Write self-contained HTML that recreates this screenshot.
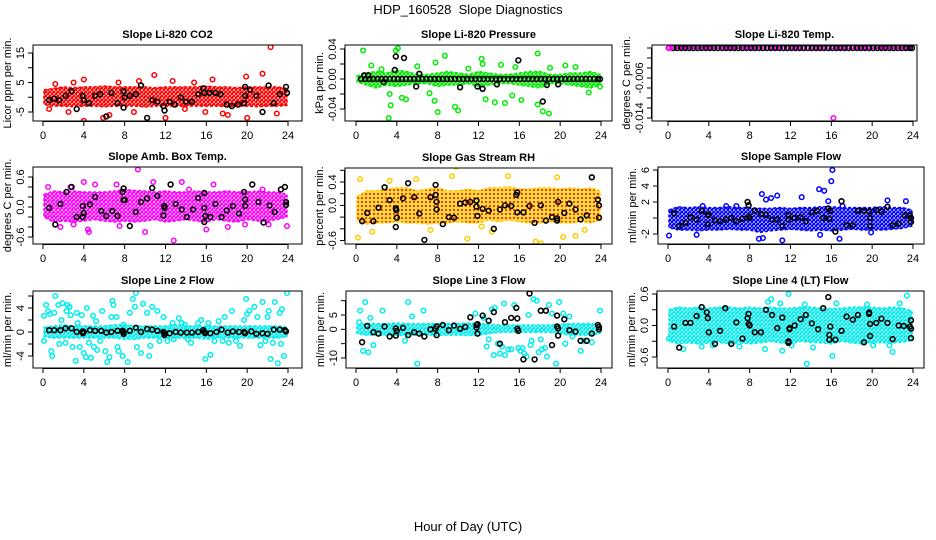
<!DOCTYPE html>
<html><head><meta charset="utf-8"><style>
html,body{margin:0;padding:0;background:#fff;}
svg{display:block;font-family:"Liberation Sans",sans-serif;}
</style></head><body>
<svg id="chart" width="936" height="540" viewBox="0 0 936 540" xmlns="http://www.w3.org/2000/svg">
<defs>
<pattern id="pat-red" width="4" height="4" patternUnits="userSpaceOnUse"><rect width="4" height="4" fill="#fff"/><circle cx="2" cy="2" r="1.5" fill="none" stroke="#ff0000" stroke-width="1.3"/><circle cx="0" cy="0" r="1" fill="#ff0000"/></pattern>
<pattern id="pat-green" width="4" height="4" patternUnits="userSpaceOnUse"><rect width="4" height="4" fill="#fff"/><circle cx="2" cy="2" r="1.5" fill="none" stroke="#00ee00" stroke-width="1.3"/><circle cx="0" cy="0" r="1" fill="#00ee00"/></pattern>
<pattern id="pat-magenta" width="4" height="4" patternUnits="userSpaceOnUse"><rect width="4" height="4" fill="#fff"/><circle cx="2" cy="2" r="1.5" fill="none" stroke="#ff00ff" stroke-width="1.3"/><circle cx="0" cy="0" r="1" fill="#ff00ff"/></pattern>
<pattern id="pat-orange" width="4" height="4" patternUnits="userSpaceOnUse"><rect width="4" height="4" fill="#ffe040"/><circle cx="2" cy="2" r="1.1" fill="#ff2000"/></pattern>
<pattern id="pat-blue" width="4" height="4" patternUnits="userSpaceOnUse"><rect width="4" height="4" fill="#fff"/><circle cx="2" cy="2" r="1.5" fill="none" stroke="#0000ff" stroke-width="1.3"/><circle cx="0" cy="0" r="1" fill="#0000ff"/></pattern>
<pattern id="pat-cyan" width="4" height="4" patternUnits="userSpaceOnUse"><rect width="4" height="4" fill="#fff"/><circle cx="2" cy="2" r="1.5" fill="none" stroke="#00eeee" stroke-width="1.3"/><circle cx="0" cy="0" r="1" fill="#00eeee"/></pattern>
</defs>
<text x="468" y="14" text-anchor="middle" font-size="13" xml:space="preserve">HDP_160528  Slope Diagnostics</text>
<text x="468" y="531" text-anchor="middle" font-size="13">Hour of Day (UTC)</text>
</svg>
<script>
const bandHours = [0.1,1,2,3,4,5,6,7,8,9,10,11,12,13,14,15,16,17,18,19,20,21,22,23,23.9];
const zeroHours = [0.5,0.9,1.3,1.7,2.1,2.5,2.9,3.3,3.7,4.1,4.5,4.9,5.3,5.7,6.1,6.5,6.9,7.3,7.7,8.1,8.5,8.9,9.3,9.7,10.1,10.5,10.9,11.3,11.7,12.1,12.5,12.9,13.3,13.7,14.1,14.5,14.9,15.3,15.7,16.1,16.5,16.9,17.3,17.7,18.1,18.5,18.9,19.3,19.7,20.1,20.5,20.9,21.3,21.7,22.1,22.5,22.9,23.3,23.7,23.9];

// Panel 1: CO2
const co2BandLo = [-2.5,-3,-3,-3.2,-3,-3,-3.2,-3,-3,-3,-3.3,-3,-3,-3,-3,-3,-3,-3,-3.2,-3,-3,-3.2,-3,-3,-2.8];
const co2BandHi = [2.5,3,3.5,3.2,3.5,3.5,3.8,3.5,3.5,3.5,3.5,3.2,3.5,3.5,3.5,3.5,3.8,3.5,3.5,3.2,3.5,3.5,3.5,3.5,3];
const co2OutH = [4,4,10.9,22.3,19.9,21.5,20,5.9,6.5,12,2.5,9.4,12.7,16.6,7.4,1.2,14.8,18.1,0.6,22.9,13.9,3,17.6,8.9,15.9];
const co2OutV = [-8,6,7.5,17,7,8,-7,-7,-6,-7,-5,5.5,5.5,6,5,4.5,5,-6,-4,-5.5,-4,5,-5.5,-5,-5];
const co2BlkH = [0.6,1.1,1.6,2.2,2.8,3.3,3.9,4.0,4.5,5.1,5.6,6.2,6.7,7.3,7.9,7.9,8,8.5,9.1,9.6,10.2,10.7,11.2,11.8,11.9,12.4,12.9,13.5,14,14.6,15.2,15.7,15.8,16.3,16.9,17.4,18.0,18.5,19.1,19.7,19.8,19.8,20.3,20.9,21.5,22.1,22.6,23.2,23.8,23.9];
const co2BlkV = [-1,-0.5,-1,0.5,2,-4,0.5,-1,-2,0.5,1,-6.5,1.5,-2,-3.5,2,0,0.5,1,4,-7,-1,-1.5,-3,-4.5,-1.5,-2.5,0,-1.5,-1.5,1,3,1.5,1.5,1.5,1,-2.5,-3,-2.5,-2,0.5,3.5,2.5,0.5,-5,4,-2,1,3.5,1.5];

// Panel 2: Pressure
const prBandLo = [-0.004,-0.008,-0.012,-0.008,-0.01,-0.008,-0.006,-0.006,-0.01,-0.008,-0.008,-0.006,-0.01,-0.008,-0.006,-0.006,-0.008,-0.01,-0.012,-0.006,-0.006,-0.008,-0.01,-0.012,-0.008];
const prBandHi = [0.004,0.008,0.01,0.008,0.012,0.01,0.006,0.006,0.008,0.01,0.008,0.006,0.01,0.008,0.006,0.006,0.008,0.01,0.01,0.006,0.006,0.008,0.008,0.01,0.006];
const prOutH = [0.7,3.2,3.4,3.9,4.1,4.5,4.9,3.3,8.7,7.8,7.7,8.0,9.7,10.0,12.3,12.7,12.4,13.6,14.6,15.3,15.6,16.2,17.8,17.8,18.3,18.9,19.0,20.5,21.5,22.8,23.9,1.5,2.5,6.0,7.2,11.0,14.2];
const prOutV = [0.038,-0.052,-0.035,0.038,0.041,-0.025,-0.027,-0.02,0.031,0.022,-0.029,-0.044,-0.037,-0.042,0.027,-0.027,0.02,-0.031,-0.032,-0.022,0.016,-0.028,0.034,-0.034,-0.043,-0.046,0.015,0.018,0.016,-0.018,-0.01,0.018,0.013,0.017,-0.019,0.014,0.019];
const prBlkH = zeroHours.concat([0.8,1.2,3.9,3.8,4.7,5.9,6.2,10.2,11.9,12.4,13.8,15.9,18.3,18.7,19.8,2.7]);
const prBlkV = zeroHours.map(function(){return 0;}).concat([0.005,0.005,0.03,0.012,0.028,-0.01,0.007,-0.011,-0.01,-0.013,-0.007,0.025,-0.03,-0.008,-0.007,-0.004]);

// Panel 3: Li-820 temp
const tpBandLo = [-0.0002,-0.0002,-0.0002,-0.0002,-0.0002,-0.0002,-0.0002,-0.0002,-0.0002,-0.0002,-0.0002,-0.0002,-0.0002,-0.0002,-0.0002,-0.0002,-0.0002,-0.0002,-0.0002,-0.0002,-0.0002,-0.0002,-0.0002,-0.0002,-0.0002];
const tpBandHi = [0.0002,0.0002,0.0002,0.0002,0.0002,0.0002,0.0002,0.0002,0.0002,0.0002,0.0002,0.0002,0.0002,0.0002,0.0002,0.0002,0.0002,0.0002,0.0002,0.0002,0.0002,0.0002,0.0002,0.0002,0.0002];
const tpOutH = [0.05,0.15,16.2];
const tpOutV = [0,0,-0.014];
const tpBlkH = zeroHours;
const tpBlkV = zeroHours.map(function(){return 0;});

// Panel 4: Amb box temp
const abBandLo = [-0.2,-0.3,-0.28,-0.3,-0.28,-0.25,-0.28,-0.3,-0.28,-0.3,-0.28,-0.25,-0.3,-0.28,-0.25,-0.28,-0.3,-0.25,-0.28,-0.3,-0.25,-0.28,-0.28,-0.25,-0.2];
const abBandHi = [0.25,0.32,0.3,0.32,0.3,0.3,0.3,0.32,0.35,0.33,0.32,0.3,0.32,0.3,0.3,0.32,0.3,0.3,0.32,0.3,0.3,0.32,0.3,0.3,0.25];
const abOutH = [9.3,12.8,1.7,4.5,4.4,10,16,23.9,4,7.2,10.8,13.6,16.7,5.1,0.5,3,19.8,22.1,7.5,21.5,18.1,2.7,14.3];
const abOutV = [0.75,-0.67,-0.4,-0.5,-0.45,-0.5,-0.45,-0.38,0.5,0.45,0.5,0.5,0.45,0.45,0.4,-0.35,-0.35,-0.35,-0.38,0.35,-0.4,0.4,0.35];
const abBlkH = [0.6,1.2,1.7,2.3,2.8,3.3,3.9,3.9,4.0,4.6,5.1,5.7,6.2,6.8,7.3,7.8,7.9,7.9,8.0,8.5,9.1,9.6,10.2,10.7,11.2,11.8,11.9,11.9,12.5,13.0,13.6,14.1,14.7,15.2,15.8,15.8,15.9,15.8,16.4,16.9,17.5,18.0,18.6,19.2,19.7,19.8,19.8,20.5,21.1,21.6,22.2,22.7,23.3,23.7,23.8,23.8];
const abBlkV = [-0.02,-0.35,0.06,0.3,0.4,-0.2,-0.2,0.02,-0.12,0.05,0.2,-0.08,-0.18,-0.08,-0.18,0.3,0.37,0.14,0.14,-0.38,-0.1,0.1,0.17,0.38,0.22,-0.17,-0.02,0.02,0.45,0.06,-0.05,-0.2,-0.05,0.18,0.28,-0.02,-0.18,-0.3,-0.2,0.06,-0.2,-0.07,0.02,-0.13,0.3,0.15,0.02,0.45,0.1,-0.31,0.03,-0.1,0.35,0.4,0.1,0.04];

// Panel 5: Gas stream RH
const rhBandLo = [-0.25,-0.32,-0.3,-0.3,-0.28,-0.3,-0.3,-0.32,-0.3,-0.3,-0.28,-0.3,-0.3,-0.25,-0.28,-0.25,-0.28,-0.3,-0.3,-0.28,-0.3,-0.3,-0.28,-0.3,-0.25];
const rhBandHi = [0.15,0.25,0.25,0.28,0.3,0.3,0.25,0.28,0.3,0.25,0.25,0.28,0.25,0.3,0.3,0.32,0.28,0.28,0.3,0.3,0.28,0.3,0.28,0.3,0.25];
const rhOutH = [0.2,0.4,8.8,9.8,10.9,13.3,17.6,18.1,20.3,21.5,23.1,14.9,19.7,5.9,7.3,22.4,3.3,1.6,12.3,9.4];
const rhOutV = [-0.55,0.45,0.7,0.66,-0.57,-0.45,-0.62,-0.65,-0.54,-0.52,-0.72,0.5,0.48,0.45,-0.42,-0.42,0.42,-0.45,-0.36,0.5];
const rhBlkH = [0.6,1.1,1.7,2.2,2.8,3.3,3.9,3.9,3.95,4.0,4.6,5.1,5.7,6.2,6.7,7.3,7.8,7.8,7.9,7.9,8.5,9.1,9.6,10.2,10.7,11.2,11.8,11.8,11.9,12.4,13.0,13.5,14.1,14.6,15.2,15.7,15.8,15.8,16.4,17.0,17.5,18.1,18.6,19.2,19.7,19.7,19.8,20.4,20.9,21.5,22.0,22.6,23.1,23.7,23.8,23.8];
const rhBlkV = [-0.27,-0.13,-0.27,-0.04,0.31,0.09,-0.05,-0.37,-0.08,-0.21,0.12,0.38,0.14,-0.14,-0.59,0.14,0.35,0.18,0.06,-0.07,-0.32,-0.2,-0.21,0.03,0.05,0.06,0.08,-0.02,-0.18,-0.06,-0.09,-0.4,-0.07,0,-0.01,0.18,0.22,-0.12,-0.12,-0.01,-0.3,0,-0.26,-0.2,-0.22,-0.26,0.06,-0.13,0.03,-0.07,-0.24,-0.17,0.48,0.1,0,-0.21];

// Panel 6: Sample flow
const sfBandLo = [-1.2,-1.5,-1.5,-1.6,-1.5,-1.5,-1.4,-1.5,-1.5,-1.8,-1.6,-1.5,-1.4,-1.5,-1.6,-1.5,-1.6,-1.5,-1.4,-1.5,-1.5,-1.5,-1.4,-1.3,-1.0];
const sfBandHi = [1.0,1.4,1.3,1.4,1.3,1.3,1.4,1.3,1.3,1.2,1.2,1.3,1.2,1.3,1.3,1.4,1.4,1.3,1.3,1.3,1.3,1.4,1.3,1.3,1.0];
const sfOutH = [0.1,9.2,9.6,10.1,10.7,13.1,14.8,15.3,16.1,16,15.7,21.5,23.3,8.9,11.2,9.3,16.8,2.8,19.9,3.4,6.7,5.7,17.1,14.9];
const sfOutV = [-2.2,3,2.3,2.5,2.8,2.6,3.6,3.4,6,4.6,2.1,2.2,2.1,-2.6,-2.8,-2.5,-2.6,-2.1,-1.8,1.5,1.5,1.5,1.5,-2.1];
const sfBlkH = [0.6,1.1,1.7,2.2,2.8,3.3,3.9,3.9,4.0,4.6,5.1,5.7,6.2,6.7,7.3,7.8,7.9,7.9,8.0,8.5,9.1,9.6,10.2,10.7,11.2,11.8,11.8,12.4,13.0,13.5,14.1,14.6,15.2,15.7,15.8,15.9,16.4,17.0,17.5,18.1,18.6,19.2,19.7,19.8,19.8,20.4,20.9,21.5,22.0,22.6,23.2,23.7,23.8,23.8];
const sfBlkV = [0.6,-1,-0.6,0.1,-0.2,0.9,-0.8,0.4,0.4,-0.3,-0.4,-0.2,0,-0.4,-0.1,2,1.6,0.2,0,0.9,0.5,0.4,-0.2,-0.2,-1,-0.2,0.4,0,0.1,-0.4,0.7,0.9,0,1.2,-0.1,0.9,-1.7,2.1,-0.9,-0.9,0.9,0.9,0.8,0,-1,1,0.8,1.4,-0.9,-0.7,0.3,0.3,0,-0.5];

// Panel 7: Line 2 flow
const l2BandLo = [-0.8,-1,-1,-1,-1,-1,-1,-1,-1.2,-1.2,-1,-1,-1,-1,-1,-1,-1.2,-1,-1,-1,-1,-1,-1,-1,-0.8];
const l2BandHi = [0.8,1,1.2,1,1,1,1,1.2,1.2,1,1,1,1,1.2,1,1,1,1,1,1,1,1,1,1,0.8];
const l2OutH = [0.1,0.1,0.3,0.5,0.7,0.8,0.9,1.1,1.2,1.5,1.6,1.8,1.9,2.2,2.3,2.4,2.6,2.7,2.9,3.2,3.3,3.4,3.6,3.8,4.0,4.2,4.3,4.5,4.7,4.9,5.0,5.2,5.3,5.6,5.8,6.1,6.3,6.5,6.7,6.8,6.9,7.2,7.3,7.4,7.8,7.9,8.3,8.5,8.8,9.0,9.1,9.2,9.6,9.8,10.2,10.4,10.5,10.7,11.2,11.4,11.8,12.2,12.7,13.3,13.6,14.2,14.5,15.2,15.5,15.9,16.4,16.2,16.8,17.2,17.6,17.8,18.2,18.5,18.9,19.3,19.7,19.9,20.0,20.2,20.7,21.0,21.3,21.5,21.8,22.0,22.1,22.3,22.5,22.7,23.0,23.2,23.4,23.6,23.9,23.3,12.8,13.9];
const l2OutV = [-1.5,2.7,4.5,3.5,3,-3.2,-4,3.2,6,4.5,-2,2,4.8,-1.8,3.5,4.5,4.2,2.8,-2.5,-4.8,3.2,1.5,-2.5,2.8,-3.5,-4.2,4,-1.8,-4.3,2.7,-2.5,1.8,-3,-1.5,3.5,-3.2,-5,-4.2,2.5,5.2,4.5,2.5,-2.5,-3.2,-4,1.2,-5,3.2,5.5,4.2,6.5,-2.5,-3.5,4.7,3.2,-4,-2.3,4.2,3.5,-1.5,2.5,-1.5,1.5,2.3,1.5,-1.2,-1.8,1.5,2,-4.5,-3.8,1.5,-1.5,1.8,-1.5,2.5,-1.8,3.5,-1.5,-2.3,2,5.5,3,3.5,4.2,2.5,-2.2,5,-1.5,2.5,3.5,-4.5,-1.8,5,-5.2,3.2,3.8,-4,6.5,-2,-1.2,1.2];
const l2BlkH = [0.6,1.1,1.7,2.2,2.8,3.3,3.9,3.9,4.0,4.6,5.1,5.7,6.2,6.7,7.3,7.8,7.9,7.9,8.5,9.1,9.6,10.2,10.7,11.2,11.8,11.9,11.9,12.4,13.0,13.5,14.1,14.6,15.2,15.7,15.8,15.9,16.4,17.0,17.5,18.1,18.6,19.2,19.7,19.8,20.4,20.9,21.5,22.0,22.6,23.2,23.7,23.8];
const l2BlkV = [0.3,0.3,0.3,0.6,0.6,0,-0.2,0.1,0,0.3,0.2,0.2,-0.1,0,0.2,0.2,-0.3,0,0.2,0.7,0,0.5,0.4,0.2,0,-0.5,-0.2,-0.2,0,-0.1,-0.1,-0.1,0,0.3,0,-0.2,-0.2,0,0.4,-0.1,0.1,0,0,-0.2,0.1,-0.3,-0.2,-0.3,0.4,0.4,0.3,0.1];

// Panel 8: Line 3 flow
const l3BandLo = [-1.5,-2,-2,-2,-2,-2.2,-2,-2,-2,-2,-2,-2.2,-2,-1.5,-1,-1,-1,-1,-1,-1,-1.5,-2,-2,-2,-1.5];
const l3BandHi = [1.5,2,2,2,2.2,2,2,2,2,2,2,2.2,2,1.8,1.5,1.5,1.5,1.5,1.5,1.5,1.8,2,2,2,1.5];
const l3OutH = [0.3,0.4,0.7,0.9,1.2,1.4,1.7,2.6,4.8,5.1,5.5,6.0,6.6,11.7,12.5,12.8,13.0,13.3,13.6,13.9,14.1,14.5,14.6,14.9,15.2,15.5,15.9,16.1,16.5,16.7,16.9,17.1,17.2,17.4,17.7,17.9,18.1,18.5,18.7,18.9,19.2,19.6,19.9,20.3,20.5,20.9,21.2,22.0,22.3,23.1,23.9,13.5,14.3,16.3,18.2];
const l3OutV = [2.5,6.5,-7.5,9.5,-8,4,-5.5,6.5,-4,9.5,4.5,-12,6.5,5.5,4,-6,-3.5,7,7.5,-5,-8.5,9,-9,-7,-7,8.5,-6.5,-7.5,-8.5,-9.5,5,-5.5,-4,10.5,10,-8,-3.5,-6.5,-9.5,8.5,5.5,-12,9.5,5.5,-5,4.5,-2.5,-7.5,-4,-4.5,6.5,-9,-6,-6.5,-7];
const l3BlkH = [0.6,1.1,1.7,2.2,2.8,3.3,3.9,3.9,4.0,4.6,5.1,5.7,6.2,6.7,7.3,7.8,7.9,7.9,8.5,9.1,9.6,10.2,10.7,11.2,11.8,11.8,11.9,11.9,12.4,13.0,13.5,14.1,14.6,15.2,15.7,15.8,15.8,15.9,16.4,17.0,17.5,18.1,18.6,19.2,19.7,19.7,19.8,19.8,20.4,20.9,21.5,22.0,22.6,23.1,23.7,23.8,23.8];
const l3BlkV = [-4.5,1.2,-1,-1.5,1,-2.5,-2.2,0.3,-0.5,0.5,-2,-1,-1.5,-2.5,0,0.2,-2,1,1.5,-0.3,1.3,0.2,0.8,4.2,1.5,0.6,-1.5,1.8,4.8,3,6,-5,2.5,4,7.5,3.8,0.2,-0.5,-10.5,12.5,-10.5,6.5,6.5,-5.5,4.8,1,-2.2,0.3,3.5,-0.3,-0.8,-4,-4,-1.5,1.5,0.8,0];

// Panel 9: Line 4 (LT) flow
const l4BandLo = [-0.3,-0.35,-0.33,-0.35,-0.33,-0.32,-0.35,-0.33,-0.35,-0.33,-0.3,-0.33,-0.35,-0.3,-0.32,-0.33,-0.35,-0.3,-0.33,-0.35,-0.32,-0.33,-0.33,-0.32,-0.28];
const l4BandHi = [0.3,0.35,0.33,0.35,0.33,0.35,0.35,0.33,0.35,0.33,0.35,0.33,0.33,0.35,0.35,0.33,0.32,0.33,0.35,0.35,0.35,0.33,0.35,0.33,0.28];
const l4OutH = [11.8,13.6,16.1,11.2,12.1,9.5,23.4,10.1,9.8,11,14.2,22,1.5,13.4,19.5,22.7,21.7,3.3,4.4,7,0.1,16.5,20.1];
const l4OutV = [0.6,-0.73,-0.58,-0.48,-0.38,-0.45,0.57,0.5,0.45,0.42,-0.42,-0.5,-0.45,0.4,0.4,0.42,-0.38,-0.4,-0.38,-0.4,-0.25,0.42,-0.38];
const l4BlkH = [0.6,1.1,1.7,2.2,2.8,3.3,3.8,3.9,4.0,4.6,5.1,5.6,6.2,6.7,7.3,7.8,7.9,7.9,8.0,8.5,9.1,9.6,10.2,10.7,11.2,11.8,11.8,11.9,11.9,12.4,13.0,13.5,14.1,14.7,15.2,15.7,15.8,15.8,15.9,16.4,17.0,17.5,18.1,18.6,19.2,19.7,19.7,19.8,19.8,20.4,20.9,21.5,22.0,22.6,23.1,23.7,23.8,23.8,23.8];
const l4BlkV = [-0.02,-0.42,0.05,0.05,0.18,0.35,0.25,0.14,-0.13,-0.35,-0.1,0.33,-0.35,0.06,-0.25,0.14,0.22,0.03,0,-0.13,-0.13,0.3,0.2,-0.05,0.15,-0.3,-0.33,-0.05,-0.07,0,0.12,0.2,0.04,-0.07,0.33,0.54,-0.18,-0.27,-0.02,-0.27,-0.1,0.17,0.11,0.2,-0.32,0.25,0.22,0.03,-0.2,0.05,0.13,0.05,-0.26,0,-0.01,-0.02,0.1,-0.06,-0.24];

const xTicks = [0,4,8,12,16,20,24];

const panels = [
 {name:'co2',title:'Slope Li-820 CO2',ylab:'Licor ppm per min.',l:33,r:302,t:45,b:121,x0:43,x24:288,va:15,pa:53,vb:-5,pb:112,ticks:[-5,0,5,10,15],labels:['-5','5','15'],lv:[-5,5,15],col:'#ff0000',pat:'pat-red',lo:co2BandLo,hi:co2BandHi,oh:co2OutH,ov:co2OutV,bh:co2BlkH,bv:co2BlkV},
 {name:'pressure',title:'Slope Li-820 Pressure',ylab:'kPa per min.',l:345,r:612,t:45,b:121,x0:356,x24:601,va:0.04,pa:49,vb:-0.04,pb:109,ticks:[-0.04,-0.02,0,0.02,0.04],labels:['-0.04','0.00','0.04'],lv:[-0.04,0,0.04],col:'#00ee00',pat:'pat-green',lo:prBandLo,hi:prBandHi,oh:prOutH,ov:prOutV,bh:prBlkH,bv:prBlkV},
 {name:'li820-temp',title:'Slope Li-820 Temp.',ylab:'degrees C per min.',l:652,r:917,t:45,b:121,x0:668,x24:913,va:0,pa:48,vb:-0.014,pb:118,ticks:[0,-0.002,-0.004,-0.006,-0.008,-0.01,-0.012,-0.014],labels:['-0.006','-0.014'],lv:[-0.006,-0.014],col:'#ff00ff',pat:'pat-magenta',lo:tpBandLo,hi:tpBandHi,oh:tpOutH,ov:tpOutV,bh:tpBlkH,bv:tpBlkV,blackFirst:true},
 {name:'amb-box-temp',title:'Slope Amb. Box Temp.',ylab:'degrees C per min.',l:33,r:302,t:167,b:244,x0:43,x24:288,va:0.6,pa:177,vb:-0.6,pb:237,ticks:[-0.6,-0.4,-0.2,0,0.2,0.4,0.6],labels:['-0.6','0.0','0.6'],lv:[-0.6,0,0.6],col:'#ff00ff',pat:'pat-magenta',lo:abBandLo,hi:abBandHi,oh:abOutH,ov:abOutV,bh:abBlkH,bv:abBlkV},
 {name:'gas-stream-rh',title:'Slope Gas Stream RH',ylab:'percent per min.',l:345,r:612,t:168,b:244,x0:356,x24:601,va:0.4,pa:182,vb:-0.6,pb:240.5,ticks:[-0.6,-0.4,-0.2,0,0.2,0.4,0.6],labels:['-0.6','0.0','0.4'],lv:[-0.6,0,0.4],col:'#ffcc00',pat:'pat-orange',lo:rhBandLo,hi:rhBandHi,oh:rhOutH,ov:rhOutV,bh:rhBlkH,bv:rhBlkV},
 {name:'sample-flow',title:'Slope Sample Flow',ylab:'ml/min per min.',l:658,r:924,t:167,b:244,x0:668,x24:913,va:6,pa:170,vb:-2,pb:234,ticks:[-2,0,2,4,6],labels:['-2','2','4','6'],lv:[-2,2,4,6],col:'#0000ff',pat:'pat-blue',lo:sfBandLo,hi:sfBandHi,oh:sfOutH,ov:sfOutV,bh:sfBlkH,bv:sfBlkV},
 {name:'line2-flow',title:'Slope Line 2 Flow',ylab:'ml/min per min.',l:33,r:302,t:291,b:368,x0:43,x24:288,va:4,pa:308,vb:-4,pb:356,ticks:[-4,-2,0,2,4,6],labels:['-4','0','4'],lv:[-4,0,4],col:'#00eeee',pat:'pat-cyan',lo:l2BandLo,hi:l2BandHi,oh:l2OutH,ov:l2OutV,bh:l2BlkH,bv:l2BlkV},
 {name:'line3-flow',title:'Slope Line 3 Flow',ylab:'ml/min per min.',l:346,r:612,t:291,b:368,x0:356,x24:601,va:5,pa:315,vb:-10,pb:358,ticks:[-10,-5,0,5,10],labels:['-10','0','5'],lv:[-10,0,5],col:'#00eeee',pat:'pat-cyan',lo:l3BandLo,hi:l3BandHi,oh:l3OutH,ov:l3OutV,bh:l3BlkH,bv:l3BlkV},
 {name:'line4-flow',title:'Slope Line 4 (LT) Flow',ylab:'ml/min per min.',l:657,r:924,t:291,b:368,x0:668,x24:913,va:0.6,pa:294,vb:-0.6,pb:357,ticks:[-0.6,-0.3,0,0.3,0.6],labels:['-0.6','0.0','0.6'],lv:[-0.6,0,0.6],col:'#00eeee',pat:'pat-cyan',lo:l4BandLo,hi:l4BandHi,oh:l4OutH,ov:l4OutV,bh:l4BlkH,bv:l4BlkV}
];

const NS = 'http://www.w3.org/2000/svg';
const svg = document.getElementById('chart');
function mk(tag, attrs, parent) {
  const e = document.createElementNS(NS, tag);
  for (const k in attrs) e.setAttribute(k, attrs[k]);
  parent.appendChild(e);
  return e;
}

panels.forEach(function(p){
  const xs = function(h){ return p.x0 + (p.x24 - p.x0) * h / 24; };
  const ys = function(v){ return p.pa + (p.pb - p.pa) * (v - p.va) / (p.vb - p.va); };
  const g = mk('g', {}, svg);
  
  

  const clipId = 'clip-' + p.name;
  const cp = mk('clipPath', {id: clipId}, g);
  mk('rect', {x: p.l, y: p.t, width: p.r - p.l, height: p.b - p.t}, cp);
  const plot = mk('g', {'clip-path': 'url(#' + clipId + ')'}, g);

  let d = '';
  bandHours.forEach(function(h, i){ d += (i ? 'L' : 'M') + xs(h).toFixed(1) + ',' + ys(p.hi[i]).toFixed(1); });
  for (let i = bandHours.length - 1; i >= 0; i--) d += 'L' + xs(bandHours[i]).toFixed(1) + ',' + ys(p.lo[i]).toFixed(1);
  d += 'Z';
  const band = mk('path', {d: d, fill: 'url(#' + p.pat + ')', stroke: p.col, 'stroke-width': 1.5, 'stroke-dasharray': '3 2', 'stroke-linejoin': 'round'}, plot);
  
  

  function drawColored() {
    p.oh.forEach(function(h, i){
      const c = mk('circle', {cx: xs(h).toFixed(1), cy: ys(p.ov[i]).toFixed(1), r: 2.3, fill: 'none', stroke: p.col, 'stroke-width': 1.5}, plot);
      
      
    });
  }
  function drawBlack() {
    p.bh.forEach(function(h, i){
      const c = mk('circle', {cx: xs(h).toFixed(1), cy: ys(p.bv[i]).toFixed(1), r: 2.4, fill: 'none', stroke: '#000', 'stroke-width': 1.6}, plot);
      
      
    });
  }
  if (p.blackFirst) { drawBlack(); drawColored(); } else { drawColored(); drawBlack(); }

  const box = mk('rect', {x: p.l, y: p.t, width: p.r - p.l, height: p.b - p.t, fill: 'none', stroke: '#000', 'stroke-width': 1}, g);
  
  

  const xa = mk('g', {}, g);
  
  
  mk('line', {x1: xs(0), x2: xs(24), y1: p.b + 0.5, y2: p.b + 0.5, stroke: '#000'}, xa);
  xTicks.forEach(function(t){
    mk('line', {x1: xs(t), x2: xs(t), y1: p.b, y2: p.b + 5, stroke: '#000'}, xa);
    const tx = mk('text', {x: xs(t), y: p.b + 18, 'text-anchor': 'middle', 'font-size': 11}, xa);
    tx.textContent = String(t);
    
    
  });

  const ya = mk('g', {}, g);
  
  
  const tmin = Math.min.apply(null, p.ticks), tmax = Math.max.apply(null, p.ticks);
  mk('line', {x1: p.l - 0.5, x2: p.l - 0.5, y1: ys(tmin), y2: ys(tmax), stroke: '#000'}, ya);
  p.ticks.forEach(function(t){
    mk('line', {x1: p.l - 5, x2: p.l, y1: ys(t), y2: ys(t), stroke: '#000'}, ya);
  });
  p.lv.forEach(function(v, i){
    const yy = ys(v), xx = p.l - 9;
    const tx = mk('text', {x: xx, y: yy, 'text-anchor': 'middle', 'font-size': 11, transform: 'rotate(-90 ' + xx + ' ' + yy + ')'}, ya);
    tx.textContent = p.labels[i];
    
    
  });
  const yx = p.l - 22, yy2 = (p.t + p.b) / 2;
  const yt = mk('text', {x: yx, y: yy2, 'text-anchor': 'middle', 'font-size': 11, transform: 'rotate(-90 ' + yx + ' ' + yy2 + ')'}, g);
  yt.textContent = p.ylab;
  
  

  const tt = mk('text', {x: (p.l + p.r) / 2, y: p.t - 7, 'text-anchor': 'middle', 'font-size': 11, 'font-weight': 'bold'}, g);
  tt.textContent = p.title;
  
  
});
</script>
</body></html>
